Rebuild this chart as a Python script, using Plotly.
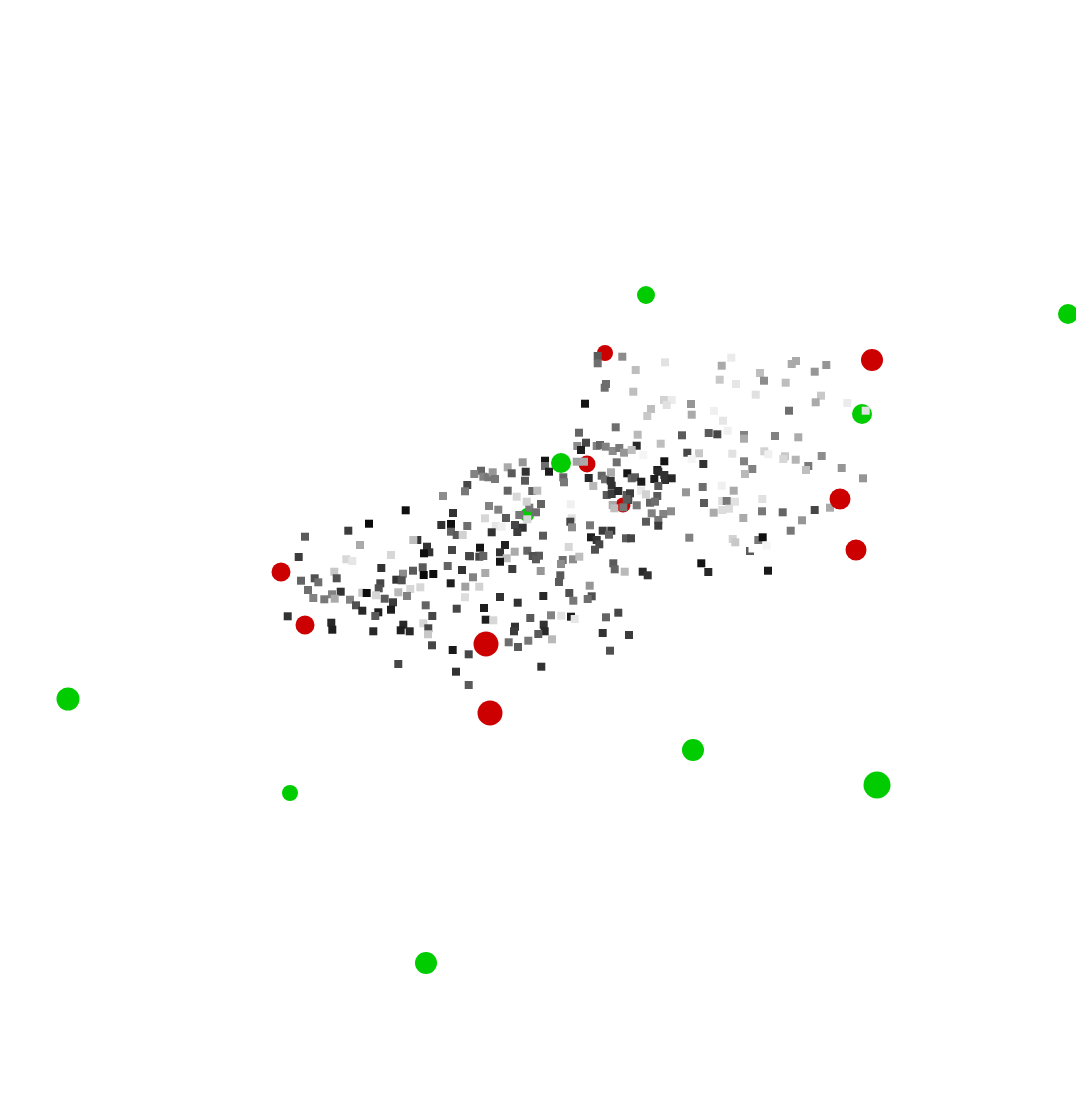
import plotly.graph_objects as go

# gray square points: x, y, gray level
point_x = [
    405.7, 453, 369, 441.3, 451, 467.3, 348.3, 451, 456.7, 462.7, 305, 417.3, 413.3, 360, 427, 452,
    429.3, 424, 391, 298.7, 469, 346.3, 352.3, 381.3, 422.7, 447.7, 462, 334.3, 413, 403, 423.7, 433.3,
    314.7, 336.7, 301, 318.3, 396.3, 401.7, 380.3, 450.7, 465.3, 420.3, 410.3, 308, 378.7, 340.7, 362.3, 366.7,
    398.3, 332, 376, 407, 313.3, 324.3, 334.7, 350, 384.7, 465, 356, 393, 425.7, 362.3, 456.7, 391,
    378.3, 375.3, 432.3, 287.7, 331.3, 403.3, 423.3, 428.3, 332.3, 400.7, 409.7, 373.3, 428, 432, 452.7, 468.7,
    398.3, 456, 468.7,
    489, 498.3, 541, 529.3, 536, 519.3, 527.3, 506, 485, 570.7, 571.7, 570.3, 572, 590, 515, 522.7,
    517.3, 495.7, 501.7, 491.7, 543, 602.7, 611.3, 609, 591, 596.7, 599.3, 595, 626, 631, 480, 505,
    500, 514.7, 527.3, 568.7, 470, 479.3, 483.3, 539, 532.7, 536, 506.7, 500, 562.7, 561, 573, 579.3,
    613.3, 614.7, 624.7, 512.3, 485.3, 540.7, 560.3, 559, 473, 479.3, 589.7, 569.3, 573.3, 591.7, 587.7, 500,
    543.3, 517.7, 484, 485.7, 493.3, 530.3, 551, 561.3, 571, 574.7, 606, 618.3, 602.7, 629, 515, 514,
    543.7, 544.7, 538.3, 552, 528.3, 508.7, 518, 610, 541.3,
    615.7, 579, 586, 577.3, 581, 596.7, 600, 605.7, 612.7, 619.3, 624, 616.7, 627.3, 545, 545, 549,
    522.7, 507.7, 511.7, 525.7, 525, 481, 474.3, 483.3, 488.3, 492.7, 495, 467.3, 465, 443, 507.7, 532.3,
    537.3, 516.7, 563.3, 564, 576.7, 584, 588.7, 593.3, 601.7, 605, 610.7, 611, 611.7, 606.7, 611.7, 618.3,
    626.7, 628.3, 623.3, 612.7, 614.3, 526.7,
    622.3, 597.7, 597.7, 665, 635.7, 606, 604.7, 633.3, 585, 664, 671.7, 666.7, 691, 691.7, 651, 647.3,
    714, 637.7, 708.7, 717.3, 682, 660.7, 687.3, 699, 636.7, 631.7, 703.3, 664.3, 643.3, 691.7, 657.3,
    731.3, 721.7, 796, 791.7, 826.3, 814.7, 760, 764, 719.7, 736, 785.7, 755.7, 821, 815.7, 847.3, 789,
    865.7, 723, 727.7, 744, 744, 775, 798.3, 732.3, 764.3, 768.3, 785, 783.3, 795.7, 821.7, 744, 808.3,
    806, 752.3, 841.7,
    745, 863, 702.7, 721.7, 733.7, 704, 722.3, 726.7, 735, 762.3, 713.7, 722.3, 729, 762, 743.3, 782.7,
    814.7, 830, 802, 790.7, 758.3, 762.7, 732.7, 735.3, 766.7, 750, 752.5, 768, 701.3, 708.3,
    631.7, 635, 641.3, 658.3, 654.3, 664.3, 665, 671.7, 658.3, 686, 641, 646, 657.3, 630, 626.7, 650,
    655, 636.7, 651.7, 646, 671, 663.3, 658.3, 658.3, 689.3, 642.7, 647.7,
]
point_y = [
    510.3, 513, 523.7, 525, 524, 526, 530.7, 531.7, 535, 535, 536.7, 540, 540, 545, 546.7, 550,
    552.3, 553.3, 555, 557, 556, 559.3, 561, 568, 567.3, 566, 570, 571.7, 570.7, 573.7, 575, 574,
    578.3, 578.3, 580.7, 582.3, 579.7, 580.3, 583.3, 583.3, 586.7, 587.3, 589, 590, 588.3, 591.7, 592.7, 593,
    592.3, 594.3, 595.3, 596, 598, 599.3, 598.7, 599.7, 598.7, 597.3, 605.3, 602.3, 605.3, 610.7, 608.7, 609.7,
    612.3, 616, 616, 616.3, 622.7, 624.7, 623.3, 628.3, 629.7, 630.3, 631.3, 631.3, 634.3, 645.3, 650, 654.3,
    664, 671.7, 685,
    506, 509.7, 504, 507.7, 512.3, 515, 519.3, 518, 518.3, 504.3, 518.3, 521.7, 527.3, 525.3, 525, 527.7,
    532, 526, 526.7, 532.3, 535.7, 530.7, 530.7, 534.7, 537.3, 540, 544.3, 549.7, 538.3, 538.3, 547.7, 545,
    552.3, 551.7, 550.7, 547, 556.3, 556.7, 556, 555.7, 556, 559.3, 558.3, 561.7, 560, 564, 559.3, 556.7,
    563.3, 569.3, 571.7, 569, 573, 571, 575.3, 582, 577.3, 586.7, 585.7, 593, 600.7, 596.3, 599, 597,
    596, 602.7, 608, 619.7, 620.3, 618, 615.3, 615.7, 616.7, 619, 617.3, 612.7, 633, 635, 626.7, 631.3,
    624.7, 631.3, 634, 639.3, 640.7, 642.3, 647, 650.7, 666.7,
    427.3, 432.7, 442.7, 446, 450, 446, 445, 446.7, 451, 448, 452.7, 462.3, 473.3, 460.7, 466, 471.7,
    462.3, 467.3, 473.3, 471.7, 480.7, 470.7, 474, 476.7, 477.3, 472.3, 479, 485, 491.3, 496, 490.7, 491,
    490.7, 496.7, 477.3, 482.3, 461.7, 461.7, 478, 486, 475.7, 479.3, 480.7, 472.3, 485.7, 495, 494, 491,
    495, 500, 507.3, 505, 508.3, 501.7,
    356.7, 356, 363.3, 362.3, 370, 384, 387.7, 391.7, 403.7, 400, 400, 405, 404, 414.7, 409, 416,
    411, 434.7, 433, 434.3, 435.3, 443.7, 452.7, 453.3, 445.7, 450, 464, 461.3, 455, 459, 470,
    357.7, 365.7, 361, 364, 365, 371.7, 373, 380.7, 379.7, 384, 382.7, 394.7, 395.7, 402.3, 403, 410.7,
    410.7, 420.7, 430.7, 435, 438.7, 436, 437.3, 453.7, 451.3, 454.3, 456.3, 459, 459.7, 456, 461.3, 466,
    470, 469, 468,
    474, 478.3, 487, 485.7, 490.7, 503, 501, 501, 501.7, 499, 512.7, 510, 508.7, 511.3, 518, 512.3,
    510, 507.7, 520.3, 530.7, 540, 537.3, 539, 542.3, 545.7, 551, 548.5, 570.7, 563.3, 572,
    478.3, 477.3, 481.7, 471.7, 479, 475, 480, 478.3, 486, 492.3, 490.7, 494.3, 496, 493.3, 499, 502.7,
    501.7, 505.3, 513.3, 521.7, 511.3, 514, 520, 525.7, 537.7, 571.7, 575.3,
]
point_gray = [
    15, 50, 10, 50, 15, 110, 60, 100, 90, 210, 90, 50, 190, 170, 50, 70,
    50, 15, 215, 60, 80, 215, 230, 50, 90, 100, 50, 200, 90, 140, 10, 15,
    80, 80, 100, 110, 50, 80, 70, 30, 160, 215, 215, 110, 80, 50, 200, 10,
    185, 130, 215, 130, 130, 120, 170, 130, 90, 220, 80, 60, 100, 40, 70, 30,
    30, 90, 70, 50, 40, 40, 215, 70, 30, 30, 40, 40, 200, 70, 25, 70,
    70, 50, 90,
    130, 130, 100, 120, 110, 120, 215, 90, 215, 240, 225, 70, 140, 120, 70, 50,
    60, 230, 240, 50, 90, 60, 50, 100, 30, 50, 70, 80, 90, 70, 20, 30,
    50, 170, 100, 215, 70, 70, 100, 90, 80, 90, 190, 20, 110, 140, 140, 190,
    90, 100, 185, 60, 170, 150, 90, 90, 130, 210, 150, 80, 120, 80, 110, 50,
    40, 50, 30, 30, 215, 90, 130, 225, 30, 230, 100, 70, 50, 60, 50, 60,
    50, 40, 90, 185, 120, 110, 90, 80, 50,
    110, 100, 70, 140, 30, 130, 100, 130, 140, 120, 150, 110, 20, 20, 110, 30,
    150, 170, 90, 50, 90, 100, 130, 130, 120, 150, 120, 70, 120, 140, 100, 100,
    190, 215, 100, 120, 160, 170, 40, 185, 100, 110, 50, 170, 50, 90, 60, 40,
    90, 70, 120, 170, 190, 210,
    140, 90, 110, 225, 190, 110, 110, 190, 20, 210, 235, 225, 150, 170, 190, 200,
    240, 185, 90, 70, 90, 190, 70, 200, 40, 190, 50, 20, 245, 245, 30,
    235, 170, 170, 170, 150, 150, 190, 140, 200, 230, 190, 225, 200, 170, 235, 110,
    225, 230, 240, 130, 170, 130, 170, 225, 210, 240, 200, 215, 180, 140, 130, 120,
    190, 130, 150,
    185, 150, 110, 240, 170, 90, 220, 120, 225, 225, 170, 220, 220, 120, 170, 100,
    70, 170, 150, 120, 120, 15, 210, 200, 245, 90, 255, 25, 20, 40,
    100, 90, 30, 40, 30, 50, 50, 40, 90, 150, 235, 210, 90, 60, 90, 100,
    110, 120, 130, 90, 140, 130, 120, 60, 130, 40, 50,
]

# circles that sit behind the squares
back_x = [605, 587, 623, 527, 862]
back_y = [353, 464, 505, 515, 414]
back_size = [16, 17, 15, 14, 20]
back_color = ["#cc0000", "#cc0000", "#cc0000", "#00cc00", "#00cc00"]

# circles in front of the squares
red_x = [872, 840, 856, 281, 305, 486, 490]
red_y = [360, 499, 550, 572, 625, 644, 713]
red_size = [22, 21, 21, 19, 19, 25, 25]

green_x = [646, 1068, 561, 68, 290, 693, 877, 426]
green_y = [295, 314, 463, 699, 793, 750, 785, 963]
green_size = [18, 20, 20, 23, 16, 22, 27, 22]

fig = go.Figure()
fig.add_trace(go.Scatter(x=back_x, y=back_y, mode="markers",
                         marker=dict(size=back_size, color=back_color, opacity=1, line_width=0)))
fig.add_trace(go.Scatter(x=point_x, y=point_y, mode="markers",
                         marker=dict(symbol="square", size=8, opacity=1, line_width=0,
                                     color=[f"rgb({g},{g},{g})" for g in point_gray])))
fig.add_trace(go.Scatter(x=red_x, y=red_y, mode="markers",
                         marker=dict(size=red_size, color="#cc0000", opacity=1, line_width=0)))
fig.add_trace(go.Scatter(x=green_x, y=green_y, mode="markers",
                         marker=dict(size=green_size, color="#00cc00", opacity=1, line_width=0)))

fig.update_layout(
    width=1076, height=1116, showlegend=False,
    margin=dict(l=0, r=0, t=0, b=0),
    paper_bgcolor="white", plot_bgcolor="white",
    xaxis=dict(range=[0, 1076], visible=False),
    yaxis=dict(range=[1116, 0], visible=False),
)

fig.write_html("out.html", config={"displayModeBar": False},
               post_script="document.body.style.margin='0';document.documentElement.style.overflow='hidden';")
